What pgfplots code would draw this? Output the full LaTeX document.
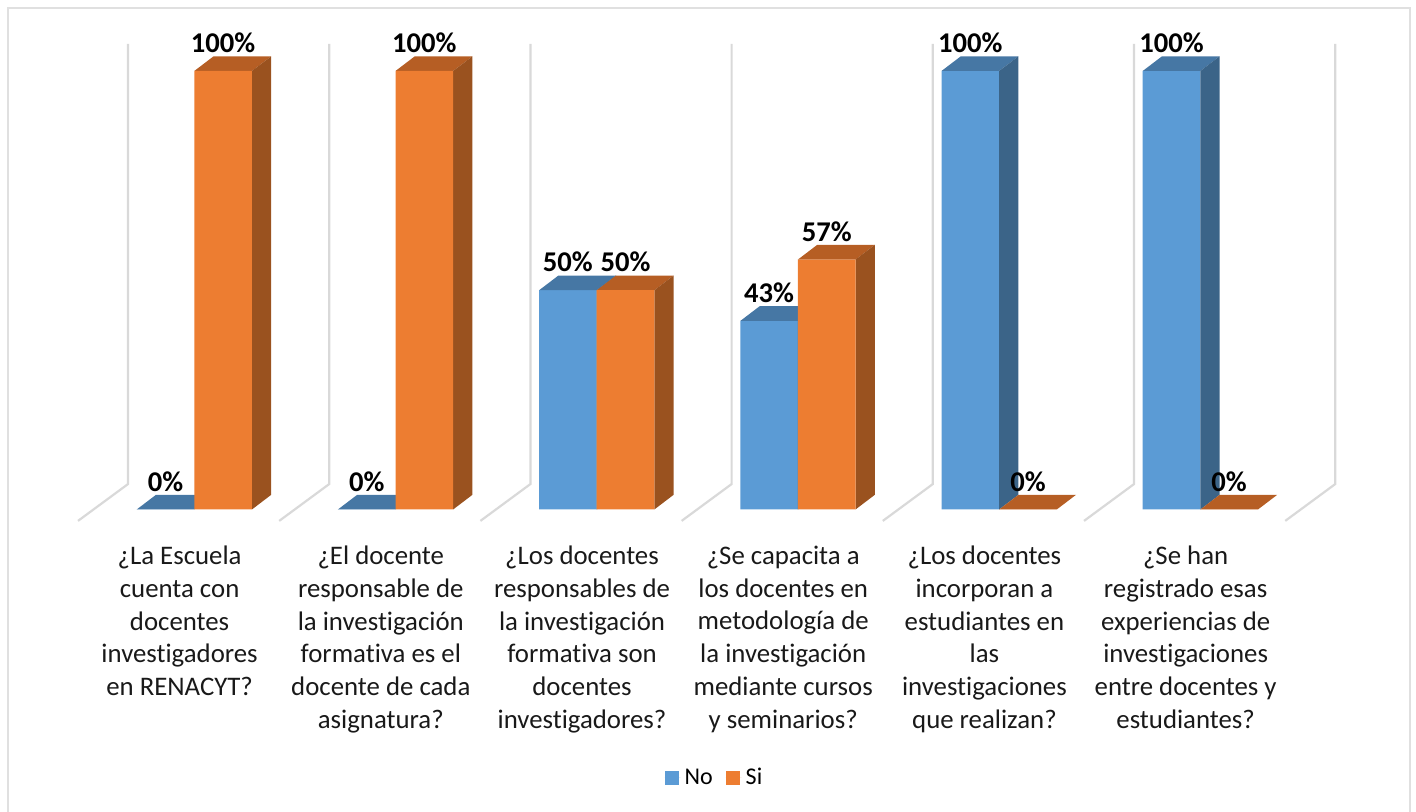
\documentclass[border=0pt]{standalone}
\usepackage{fontspec}
\setmainfont[Ligatures=NoCommon]{Carlito}
\usepackage{pgfplots}
\pgfplotsset{compat=1.18}
\definecolor{bluef}{HTML}{5B9BD5}
\definecolor{bluet}{HTML}{4677A4}
\definecolor{blues}{HTML}{3B6488}
\definecolor{orangef}{HTML}{ED7D31}
\definecolor{oranget}{HTML}{B65E24}
\definecolor{oranges}{HTML}{9A521F}
\definecolor{wall}{HTML}{D9D9D9}
\definecolor{frame}{HTML}{E0E0E0}
\pgfplotsset{
  barlabel/.style={
    nodes near coords={\pgfmathprintnumber[assume math mode=true]{\pgfplotspointmeta}\%},
    every node near coord/.append style={anchor=center, yshift=14pt, xshift=#1, inner sep=0pt,
      font=\fontsize{14.3}{15}\selectfont\bfseries, text=black},
  }
}
\begin{document}
\begin{tikzpicture}
\path[use as bounding box] (0pt,0pt) rectangle (708pt,406pt);
\draw[frame,line width=1pt] (3.75pt,-1pt) -- (3.75pt,402.2pt) -- (705pt,402.2pt) -- (705pt,-1pt);
\begin{axis}[
  at={(0pt,141pt)}, anchor=south west,
  scale only axis, width=708pt, height=265pt,
  xmin=-0.9657, xmax=6.072, ymin=-4.675, ymax=116.19,
  clip=false,
  axis line style={draw=none},
  ytick=\empty,
  xtick={0,1,2,3,4,5},
  xtick style={draw=none},
  major tick length=0pt,
  xticklabels={
    {¿La Escuela\\cuenta con\\docentes\\investigadores\\en RENACYT?},
    {¿El docente\\responsable de\\la investigación\\formativa es el\\docente de cada\\asignatura?},
    {¿Los docentes\\responsables de\\la investigación\\formativa son\\docentes\\investigadores?},
    {¿Se capacita a\\los docentes en\\metodología de\\la investigación\\mediante cursos\\y seminarios?},
    {¿Los docentes\\incorporan a\\estudiantes en\\las\\investigaciones\\que realizan?},
    {¿Se han\\registrado esas\\experiencias de\\investigaciones\\entre docentes y\\estudiantes?}},
  xticklabel style={align=center, anchor=north, xshift=-7.35pt, yshift=-4.5pt,
    font=\fontsize{13.4}{16.35}\selectfont, text=black!90},
  unbounded coords=jump,
  legend style={at={(axis cs:2.590,-61.2)}, anchor=center, draw=none, fill=none,
    font=\fontsize{12}{14}\selectfont, legend columns=2,
    /tikz/every even column/.append style={column sep=4.5pt}},
  legend cell align=left,
  legend image code/.code={\fill[#1] (0pt,-3.5pt) rectangle (7pt,3.5pt); \path (0pt,0pt) -- (8pt,0pt);},
]
% walls and floor
\addplot[forget plot, wall, line width=1.1pt] coordinates {
  (-0.3295,106.2)(-0.3295,5.8)(-0.578,-2.6)(nan,nan)
  (0.6705,106.2)(0.6705,5.8)(0.422,-2.6)(nan,nan)
  (1.6705,106.2)(1.6705,5.8)(1.422,-2.6)(nan,nan)
  (2.6705,106.2)(2.6705,5.8)(2.422,-2.6)(nan,nan)
  (3.6705,106.2)(3.6705,5.8)(3.422,-2.6)(nan,nan)
  (4.6705,106.2)(4.6705,5.8)(4.422,-2.6)(nan,nan)
  (5.6705,106.2)(5.6705,5.8)(5.422,-2.6)
};
% No: front faces
\addplot[ybar, bar width=28.8pt, bar shift=-14.4pt, fill=bluef, draw=none, barlabel=-14.4pt]
  coordinates {(0,0)(1,0)(2,50)(3,43)(4,100)(5,100)};
\addlegendentry{No}
% No: tops
\addplot[forget plot, no marks, fill=bluet, draw=none] coordinates {
  (-.2863,0)(0,0)(.0959,3.35)(-.1904,3.35)(nan,nan)
  (.7137,0)(1,0)(1.0959,3.35)(.8096,3.35)(nan,nan)
  (1.7137,50)(2,50)(2.0959,53.35)(1.8096,53.35)(nan,nan)
  (2.7137,43)(3,43)(3.0959,46.35)(2.8096,46.35)(nan,nan)
  (3.7137,100)(4,100)(4.0959,103.35)(3.8096,103.35)(nan,nan)
  (4.7137,100)(5,100)(5.0959,103.35)(4.8096,103.35)
};
% No: sides
\addplot[forget plot, no marks, fill=blues, draw=none] coordinates {
  (2,0)(2.0959,3.35)(2.0959,53.35)(2,50)(nan,nan)
  (3,0)(3.0959,3.35)(3.0959,46.35)(3,43)(nan,nan)
  (4,0)(4.0959,3.35)(4.0959,103.35)(4,100)(nan,nan)
  (5,0)(5.0959,3.35)(5.0959,103.35)(5,100)
};
% Si: tops
\addplot[forget plot, no marks, fill=oranget, draw=none] coordinates {
  (0,100)(.2863,100)(.3822,103.35)(.0959,103.35)(nan,nan)
  (1,100)(1.2863,100)(1.3822,103.35)(1.0959,103.35)(nan,nan)
  (2,50)(2.2863,50)(2.3822,53.35)(2.0959,53.35)(nan,nan)
  (3,57)(3.2863,57)(3.3822,60.35)(3.0959,60.35)(nan,nan)
  (4,0)(4.2863,0)(4.3822,3.35)(4.0959,3.35)(nan,nan)
  (5,0)(5.2863,0)(5.3822,3.35)(5.0959,3.35)
};
% Si: sides
\addplot[forget plot, no marks, fill=oranges, draw=none] coordinates {
  (.2863,0)(.3822,3.35)(.3822,103.35)(.2863,100)(nan,nan)
  (1.2863,0)(1.3822,3.35)(1.3822,103.35)(1.2863,100)(nan,nan)
  (2.2863,0)(2.3822,3.35)(2.3822,53.35)(2.2863,50)(nan,nan)
  (3.2863,0)(3.3822,3.35)(3.3822,60.35)(3.2863,57)
};
% Si: front faces
\addplot[ybar, bar width=28.8pt, bar shift=14.4pt, fill=orangef, draw=none, barlabel=14.4pt]
  coordinates {(0,100)(1,100)(2,50)(3,57)(4,0)(5,0)};
\addlegendentry{Si}
\end{axis}
\end{tikzpicture}
\end{document}
